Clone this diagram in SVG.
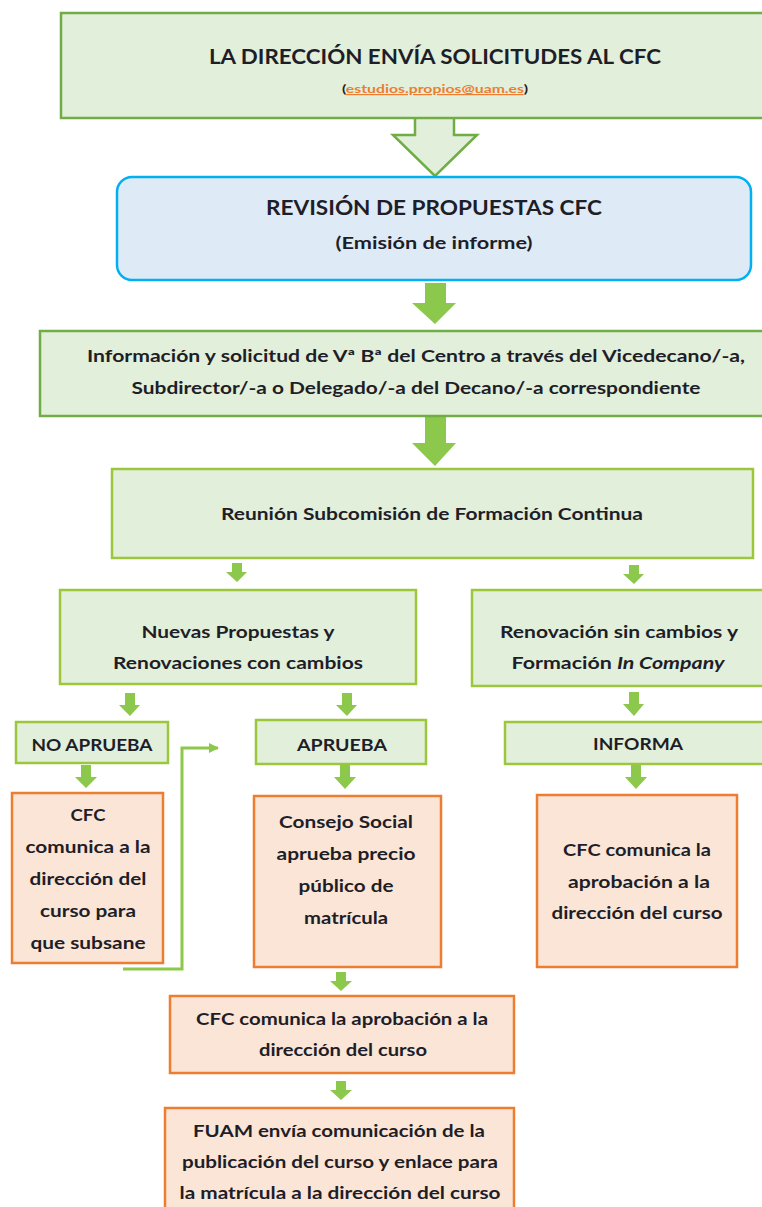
<svg xmlns="http://www.w3.org/2000/svg" width="762" height="1207" viewBox="0 0 762 1207">
<style>
text{font-family:Lato,"Liberation Sans",sans-serif;font-weight:bold;fill:#1e1e28;text-anchor:middle}
.g{fill:#e2efda;stroke:#70ad47;stroke-width:2.5}
.gy{fill:#e2efda;stroke:#9cc63b;stroke-width:2.5}
.o{fill:#fbe5d6;stroke:#ed7d31;stroke-width:2.5}
.b{fill:#deebf7;stroke:#00b0f0;stroke-width:2.5}
.arr{fill:#8cc84b;stroke:none}
.t17{font-size:17px}
</style>
<defs>
<marker id="ah" markerWidth="10" markerHeight="10" refX="9" refY="5" orient="auto" markerUnits="userSpaceOnUse">
<path d="M0,0 L10,5 L0,10 Z" fill="#8cc84b"/>
</marker>
</defs>
<rect width="762" height="1207" fill="#fff"/>

<g id="connectors">
<path d="M415,117 L415,135 L393,135 L435,176 L477,135 L454,135 L454,117" fill="#e2efda" stroke="#70ad47" stroke-width="2.5"/>
<path class="arr" d="M425,283 H446 V303 H456 L435,324 L412,303 H425 Z"/>
<path class="arr" d="M425,417 H446 V443 H456 L435,466 L412,443 H425 Z"/>
<path class="arr" d="M232,563 H242 V572 H247 L237,582 L226,572 H232 Z"/>
<path class="arr" d="M629,565 H639 V574 H644 L634,584 L623,574 H629 Z"/>
<path class="arr" d="M125,693 H135 V705 H140 L130,716 L119,705 H125 Z"/>
<path class="arr" d="M342,693 H352 V705 H357 L347,716 L336,705 H342 Z"/>
<path class="arr" d="M629,692 H639 V704 H644 L634,716 L623,704 H629 Z"/>
<path class="arr" d="M81,765 H91 V777 H97 L86,788 L75,777 H81 Z"/>
<path class="arr" d="M340,765 H350 V777 H356 L345,789 L334,777 H340 Z"/>
<path class="arr" d="M631,765 H641 V777 H647 L636,789 L625,777 H631 Z"/>
<path class="arr" d="M336,972 H346 V981 H352 L341,991 L330,981 H336 Z"/>
<path class="arr" d="M336,1081 H346 V1090 H352 L341,1100 L330,1090 H336 Z"/>
<path d="M123,969 H182 V748 H218" fill="none" stroke="#8cc84b" stroke-width="3" marker-end="url(#ah)"/>
</g>

<g id="n-solicitudes">
<rect class="g" x="61" y="13" width="720" height="105"/>
<text x="435" y="64" font-size="21" textLength="452" lengthAdjust="spacingAndGlyphs">LA DIRECCIÓN ENVÍA SOLICITUDES AL CFC</text>
<text x="435" y="93" font-size="12" textLength="186" lengthAdjust="spacingAndGlyphs">(<tspan fill="#ed7d31" text-decoration="underline">estudios.propios@uam.es</tspan>)</text>
</g>

<g id="n-revision">
<rect class="b" x="117" y="177" width="634" height="103" rx="15" ry="15"/>
<text x="434" y="215" font-size="21" textLength="336" lengthAdjust="spacingAndGlyphs">REVISIÓN DE PROPUESTAS CFC</text>
<text x="434" y="249" class="t17" textLength="197" lengthAdjust="spacingAndGlyphs">(Emisión de informe)</text>
</g>

<g id="n-informacion">
<rect class="g" x="40" y="331" width="740" height="85"/>
<text x="416" y="362" class="t17" textLength="658" lengthAdjust="spacingAndGlyphs">Información y solicitud de Vª Bª del Centro a través del Vicedecano/-a,</text>
<text x="416" y="394" class="t17" textLength="569" lengthAdjust="spacingAndGlyphs">Subdirector/-a o Delegado/-a del Decano/-a correspondiente</text>
</g>

<g id="n-reunion">
<rect class="gy" x="112" y="469" width="641" height="89"/>
<text x="432" y="520" class="t17" textLength="422" lengthAdjust="spacingAndGlyphs">Reunión Subcomisión de Formación Continua</text>
</g>

<g id="n-nuevas">
<rect class="gy" x="60" y="590" width="356" height="94"/>
<text x="238" y="638" class="t17" textLength="193" lengthAdjust="spacingAndGlyphs">Nuevas Propuestas y</text>
<text x="238" y="669" class="t17" textLength="250" lengthAdjust="spacingAndGlyphs">Renovaciones con cambios</text>
</g>

<g id="n-renovacion">
<rect class="gy" x="472" y="590" width="310" height="96"/>
<text x="619" y="638" class="t17" textLength="238" lengthAdjust="spacingAndGlyphs">Renovación sin cambios y</text>
<text x="618" y="669" class="t17" textLength="213" lengthAdjust="spacingAndGlyphs">Formación <tspan font-style="italic">In Company</tspan></text>
</g>

<g id="n-noaprueba">
<rect class="gy" x="16" y="722" width="152" height="41"/>
<text x="92" y="751" class="t17" textLength="121" lengthAdjust="spacingAndGlyphs">NO APRUEBA</text>
</g>

<g id="n-aprueba">
<rect class="gy" x="256" y="720" width="170" height="44"/>
<text x="342" y="751" class="t17" textLength="90" lengthAdjust="spacingAndGlyphs">APRUEBA</text>
</g>

<g id="n-informa">
<rect class="gy" x="505" y="722" width="277" height="42"/>
<text x="638" y="750" class="t17" textLength="90" lengthAdjust="spacingAndGlyphs">INFORMA</text>
</g>

<g id="n-subsane">
<rect class="o" x="12" y="793" width="151" height="170"/>
<text x="88" y="821" class="t17" textLength="35" lengthAdjust="spacingAndGlyphs">CFC</text>
<text x="88" y="853" class="t17" textLength="125" lengthAdjust="spacingAndGlyphs">comunica a la</text>
<text x="88" y="885" class="t17" textLength="117" lengthAdjust="spacingAndGlyphs">dirección del</text>
<text x="88" y="917" class="t17" textLength="96" lengthAdjust="spacingAndGlyphs">curso para</text>
<text x="88" y="949" class="t17" textLength="115" lengthAdjust="spacingAndGlyphs">que subsane</text>
</g>

<g id="n-consejo">
<rect class="o" x="254" y="796" width="187" height="171"/>
<text x="346" y="828" class="t17" textLength="134" lengthAdjust="spacingAndGlyphs">Consejo Social</text>
<text x="346" y="860" class="t17" textLength="139" lengthAdjust="spacingAndGlyphs">aprueba precio</text>
<text x="346" y="892" class="t17" textLength="95" lengthAdjust="spacingAndGlyphs">público de</text>
<text x="346" y="924" class="t17" textLength="84" lengthAdjust="spacingAndGlyphs">matrícula</text>
</g>

<g id="n-cfc-informa">
<rect class="o" x="537" y="795" width="200" height="172"/>
<text x="637" y="856" class="t17" textLength="148" lengthAdjust="spacingAndGlyphs">CFC comunica la</text>
<text x="639" y="888" class="t17" textLength="142" lengthAdjust="spacingAndGlyphs">aprobación a la</text>
<text x="637" y="919" class="t17" textLength="171" lengthAdjust="spacingAndGlyphs">dirección del curso</text>
</g>

<g id="n-cfc-aprueba">
<rect class="o" x="170" y="996" width="344" height="77"/>
<text x="342" y="1025" class="t17" textLength="292" lengthAdjust="spacingAndGlyphs">CFC comunica la aprobación a la</text>
<text x="343" y="1056" class="t17" textLength="168" lengthAdjust="spacingAndGlyphs">dirección del curso</text>
</g>

<g id="n-fuam">
<rect class="o" x="165" y="1108" width="349" height="110"/>
<text x="339" y="1137" class="t17" textLength="292" lengthAdjust="spacingAndGlyphs">FUAM envía comunicación de la</text>
<text x="340" y="1168" class="t17" textLength="316" lengthAdjust="spacingAndGlyphs">publicación del curso y enlace para</text>
<text x="340" y="1199" class="t17" textLength="321" lengthAdjust="spacingAndGlyphs">la matrícula a la dirección del curso</text>
</g>
</svg>
